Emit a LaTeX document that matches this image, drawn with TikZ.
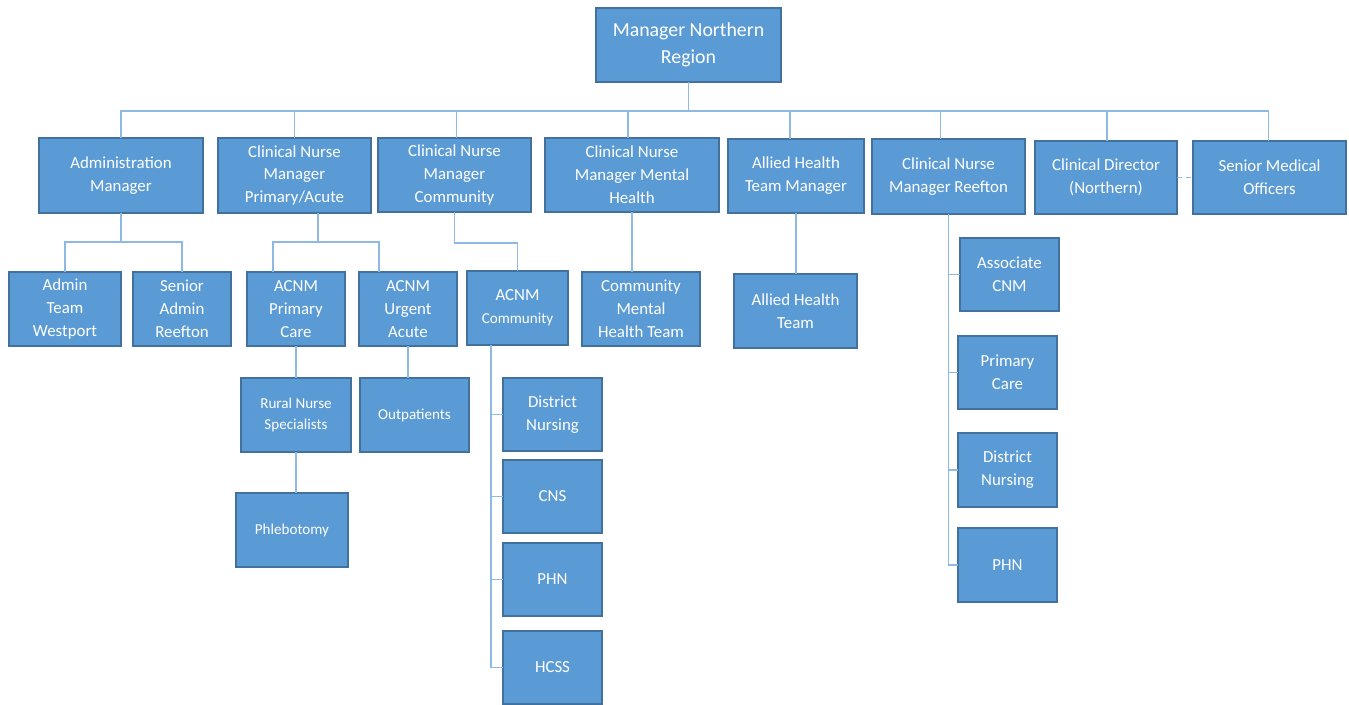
\documentclass[tikz,border=0pt]{standalone}
\usepackage{fontspec}
\setmainfont{Carlito}
\usepackage{tikz}
\usetikzlibrary{calc}
\definecolor{boxfill}{HTML}{5B9BD5}
\definecolor{boxedge}{HTML}{41719C}
\definecolor{linkblue}{HTML}{8DB9E3}
\newcommand{\minortext}{\fontsize{8.6}{11.9}\selectfont}
\tikzset{
  unit/.style  = {rectangle, draw=boxedge, line width=1pt, fill=boxfill,
                  text=white, align=center, inner sep=1pt, outer sep=0pt,
                  minimum height=1.48cm, font=\fontsize{9.6}{13}\selectfont},
  head/.style  = {unit, font=\fontsize{11.3}{15.3}\selectfont},
  small/.style = {unit, font=\minortext},
  link/.style  = {draw=linkblue, line width=0.85pt},
}
\begin{document}
\begin{tikzpicture}[x=0.02cm, y=-0.02cm]
  \useasboundingbox (0,0) rectangle (1349,705);

  \node[head, minimum width=3.70cm] (mnr) at (688.5,45) {Manager Northern\\Region};

  % managers
  \node[unit, minimum width=3.28cm, minimum height=1.50cm] (adm) at (121,175.5) {Administration\\Manager};
  \node[unit, minimum width=3.06cm, minimum height=1.50cm] (cnmpa) at (294.5,175.5) {Clinical Nurse\\Manager\\Primary/Acute};
  \node[unit, minimum width=3.06cm] (cnmc) at (454.5,175) {Clinical Nurse\\Manager\\Community};
  \node[unit, minimum width=3.48cm] (cnmmh) at (632,175) {Clinical Nurse\\Manager Mental\\Health};
  \node[unit, minimum width=2.72cm] (ahtm) at (796,176) {Allied Health\\Team Manager};
  \node[unit, minimum width=3.06cm, minimum height=1.50cm] (cnmr) at (948.5,176.5) {Clinical Nurse\\Manager Reefton};
  \node[unit, minimum width=2.84cm, minimum height=1.46cm] (cd) at (1106,177.5) {Clinical Director\\(Northern)};
  \node[unit, minimum width=3.06cm, minimum height=1.46cm] (smo) at (1269.5,177.5) {Senior Medical\\Officers};

  % teams
  \node[unit, minimum width=2.24cm] (atw) at (65,309) {Admin\\Team\\Westport};
  \node[unit, minimum width=1.96cm] (sar) at (182,309) {Senior\\Admin\\Reefton};
  \node[unit, minimum width=1.96cm] (acnmpc) at (296,309) {ACNM\\Primary\\Care};
  \node[unit, minimum width=1.96cm] (acnmua) at (408,309) {ACNM\\Urgent\\Acute};
  \node[unit, minimum width=2.02cm] (acnmc) at (517.5,308) {ACNM\\{\minortext Community}};
  \node[unit, minimum width=2.36cm] (cmht) at (641,309) {Community\\Mental\\Health Team};
  \node[unit, minimum width=2.46cm] (aht) at (795.5,311) {Allied Health\\Team};

  % reefton
  \node[unit, minimum width=1.98cm, minimum height=1.46cm] (acnm) at (1009.5,274.5) {Associate\\CNM};
  \node[unit, minimum width=1.98cm, minimum height=1.46cm] (rpc) at (1007.5,372.5) {Primary\\Care};
  \node[unit, minimum width=1.98cm] (rdn) at (1007.5,470) {District\\Nursing};
  \node[unit, minimum width=1.98cm] (rphn) at (1007.5,565) {PHN};

  % primary/acute
  \node[small, minimum width=2.20cm] (rns) at (296,415) {Rural Nurse\\Specialists};
  \node[small, minimum width=2.18cm] (outp) at (414.5,415) {Outpatients};
  \node[small, minimum width=2.24cm] (phleb) at (292,530) {Phlebotomy};

  % community
  \node[unit, minimum width=1.98cm, minimum height=1.46cm] (cdn) at (552.5,414.5) {District\\Nursing};
  \node[unit, minimum width=1.98cm, minimum height=1.46cm] (cns) at (552.5,496.5) {CNS};
  \node[unit, minimum width=1.98cm, minimum height=1.46cm] (cphn) at (552.5,579.5) {PHN};
  \node[unit, minimum width=1.98cm, minimum height=1.46cm] (hcss) at (552.5,667.5) {HCSS};

  % lines
  \coordinate (bus) at (0,111);
  \foreach \n/\dx in {adm/0, cnmpa/0, cnmc/2, cnmmh/-4, ahtm/-6, cnmr/-8, cd/1, smo/-1}
    \draw[link] (mnr.south) -- (mnr.south |- bus) -| ($(\n.north)+(\dx,0)$);

  \draw[link] (adm.south) -- ++(0,29) -| (atw.north);
  \draw[link] (adm.south) -- ++(0,29) -| (sar.north);

  \coordinate (pajoin) at ($(cnmpa.south)+(23.5,29)$);
  \draw[link] ($(cnmpa.south)+(23.5,0)$) -- (pajoin) -| ($(acnmpc.north)+(-23,0)$);
  \draw[link] (pajoin) -| ($(acnmua.north)+(-29,0)$);

  \draw[link] (cnmc.south) -- ++(0,31) -| (acnmc.north);
  \draw[link] (cnmmh.south) -- (cnmmh.south |- cmht.north);
  \draw[link] (ahtm.south) -- (ahtm.south |- aht.north);

  \foreach \n in {acnm, rpc, rdn, rphn}
    \draw[link] (cnmr.south) |- (\n.west);

  \draw[link] (acnmpc.south) -- (rns.north);
  \draw[link] (rns.south) -- (rns.south |- phleb.north);
  \draw[link] (acnmua.south) -- (acnmua.south |- outp.north);

  \coordinate (cspine) at ($(acnmc.south)+(-26.5,0)$);
  \foreach \n in {cdn, cns, cphn, hcss}
    \draw[link] (cspine) |- (\n.west);

  \draw[link, dash pattern=on 3pt off 2pt] (cd.east) -- (smo.west);

\end{tikzpicture}
\end{document}
